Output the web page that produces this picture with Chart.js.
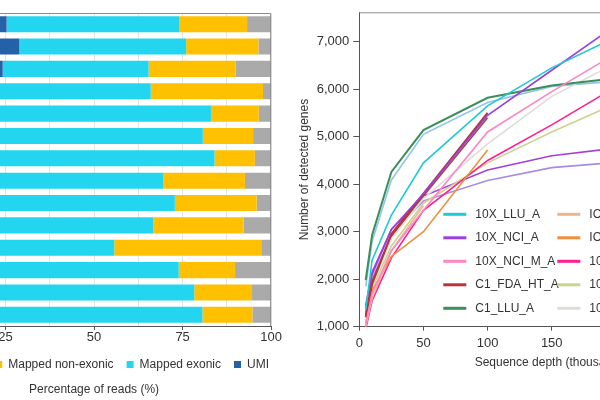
<!DOCTYPE html>
<html>
<head>
<meta charset="utf-8">
<script src="https://cdn.jsdelivr.net/npm/chart.js@4.4.1/dist/chart.umd.min.js"></script>
<style>
  html, body { margin: 0; padding: 0; background: #fff; }
  #wrap { position: relative; width: 600px; height: 400px; overflow: hidden; }
  #readsBox { position: absolute; left: -110px; top: 0; width: 392px; height: 400px; }
  #genesBox { position: absolute; left: 280px; top: 0; width: 480px; height: 400px; }
</style>
</head>
<body>
<div id="wrap">
  <div id="readsBox"><canvas id="readsChart" width="392" height="400"></canvas></div>
  <div id="genesBox"><canvas id="genesChart" width="480" height="400"></canvas></div>
</div>
<script>
// Samples (rows of the bar chart, lines of the depth chart)
const samples = ["10X_LLU_A", "10X_NCI_A", "10X_NCI_M_A", "C1_FDA_HT_A", "C1_LLU_A", "ICELL8_PE_A", "ICELL8_SE_A",
                 "10X_LLU_B", "10X_NCI_B", "10X_NCI_M_B", "C1_FDA_HT_B", "C1_LLU_B", "ICELL8_PE_B", "ICELL8_SE_B"];

// Percentage of reads per sample (stacked left to right)
const umiPct        = [25.3, 28.9, 24.2, 0, 0, 0, 0, 0, 0, 0, 0, 0, 0, 0];
const exonicPct     = [48.7, 47.1, 41.2, 66.0, 83.0, 80.7, 84.0, 69.5, 72.8, 66.7, 55.7, 73.9, 78.3, 80.6];
const nonExonicPct  = [19.2, 20.4, 24.6, 31.7, 13.5, 14.2, 11.4, 23.1, 23.1, 25.5, 41.5, 15.9, 16.3, 14.1];
const unmappedPct   = [6.8, 3.6, 10.0, 2.3, 3.5, 5.1, 4.6, 7.4, 4.1, 7.8, 2.8, 10.2, 5.4, 5.3];

// Number of detected genes at each sequence depth (thousands of reads)
const depths = [5, 10, 25, 50, 100, 150, 200];
const geneTicks = [1000, 2000, 3000, 4000, 5000, 6000, 7000];
const genes10xLluA   = [1350, 2400, 3350, 4450, 5650, 6450, 7100];
const genes10xNciA   = [1450, 2150, 3050, 3800, 5450, 6400, 7350];
const genes10xNciMA  = [1050, 1700, 2600, 3450, 5100, 5950, 6750];
const genesC1FdaA    = [1200, 1900, 2950, 3800, 5500, null, null];
const genesC1LluA    = [1980, 2930, 4260, 5140, 5820, 6080, 6230];
const genesIcePeA    = [1000, 1600, 2600, 3550, null, null, null];
const genesIceSeA    = [1050, 1750, 2480, 3000, 4720, null, null];
const genes10xLluB   = [950, 1550, 2450, 3450, 4500, 5250, 6050];
const genes10xNciB   = [1050, 1800, 2700, 3600, 4450, 5100, 5700];
const genes10xNciMB  = [1100, 1850, 2850, 3700, 4850, 5850, 6550];
const genesC1FdaB    = [1250, 1950, 2900, 3750, 5400, null, null];
const genesC1LluB    = [1850, 2800, 4090, 5050, 5720, 6060, 6170];
const genesIcePeB    = [1400, 2100, 3050, 3750, 4300, 4600, 4760];
const genesIceSeB    = [1300, 2000, 2950, 3650, 4080, 4350, 4460];

const geneSeries = [genes10xLluA, genes10xNciA, genes10xNciMA, genesC1FdaA, genesC1LluA, genesIcePeA, genesIceSeA,
                    genes10xLluB, genes10xNciB, genes10xNciMB, genesC1FdaB, genesC1LluB, genesIcePeB, genesIceSeB];
const lineColors = ["#1fc9d6", "#9a3fe0", "#ff86c2", "#b8333a", "#3b8f5a", "#e8b791", "#ef903c",
                    "#ff1f8f", "#cbd48f", "#dddcd6", "#9e4a3c", "#92c5e8", "#a63fd4", "#a58de0"];

Chart.defaults.font.family = "'Liberation Sans', Arial, sans-serif";
Chart.defaults.color = "#333";

// top + right border of the plot box
const framePlugin = {
    id: "frame",
    afterDatasetsDraw(chart) {
        const { ctx, chartArea: a } = chart;
        ctx.save();
        ctx.strokeStyle = "#8c8c8c";
        ctx.lineWidth = 1;
        ctx.beginPath();
        ctx.moveTo(a.left, a.top + 0.5);
        ctx.lineTo(a.right - 0.5, a.top + 0.5);
        ctx.lineTo(a.right - 0.5, a.bottom);
        ctx.stroke();
        ctx.restore();
    }
};

// legend drawn inside the plot area, 5 rows per column
const sampleLegend = {
    id: "sampleLegend",
    afterDraw(chart) {
        const { ctx, chartArea: a } = chart;
        ctx.save();
        ctx.font = "12px 'Liberation Sans', Arial, sans-serif";
        ctx.textBaseline = "middle";
        chart.data.datasets.forEach((ds, i) => {
            const col = Math.floor(i / 5), row = i % 5;
            const x = a.left + 84 + col * 114;
            const y = a.top + 202 + row * 23.5;
            ctx.strokeStyle = ds.borderColor;
            ctx.lineWidth = 3;
            ctx.beginPath();
            ctx.moveTo(x, y);
            ctx.lineTo(x + 23, y);
            ctx.stroke();
            ctx.fillStyle = "#333";
            ctx.fillText(ds.label, x + 32, y);
        });
        ctx.restore();
    }
};

// Left: stacked horizontal bars
new Chart(document.getElementById("readsChart"), {
    type: "bar",
    data: {
        labels: samples,
        datasets: [
            { label: "UMI", data: umiPct, backgroundColor: "#2461a8" },
            { label: "Mapped exonic", data: exonicPct, backgroundColor: "#24d5f0" },
            { label: "Mapped non-exonic", data: nonExonicPct, backgroundColor: "#ffc000" },
            { label: "Unmapped", data: unmappedPct, backgroundColor: "#aaaaaa" }
        ]
    },
    options: {
        responsive: false,
        animation: false,
        indexAxis: "y",
        barPercentage: 0.72,
        categoryPercentage: 1,
        layout: { padding: { left: 0, right: 0, top: 13, bottom: 0 } },
        scales: {
            x: {
                stacked: true,
                min: 0,
                max: 100,
                grid: {
                    color: "#e4e4e4",
                    tickLength: 4,
                    tickColor: (c) => (c.tick && c.tick.value % 25 === 0 ? "#555" : "rgba(0,0,0,0)")
                },
                border: { color: "#555" },
                ticks: {
                    stepSize: 12.5,
                    padding: 0,
                    font: { size: 13 },
                    color: "#333",
                    callback: (v) => (v % 25 === 0 ? v : "")
                }
            },
            y: {
                stacked: true,
                afterFit: (s) => { s.width = 27; },
                grid: { display: false },
                border: { display: false },
                ticks: { display: false }
            }
        },
        plugins: {
            legend: {
                position: "bottom",
                align: "end",
                reverse: true,
                labels: { boxWidth: 7, boxHeight: 7, padding: 13, font: { size: 12 }, color: "#333" }
            },
            title: {
                display: true,
                position: "bottom",
                fullSize: false,
                text: "Percentage of reads (%)",
                font: { size: 12, weight: "normal" },
                color: "#333",
                padding: { top: 2, bottom: 3 }
            },
            tooltip: { enabled: false }
        }
    },
    plugins: [framePlugin]
});

// Right: detected genes vs sequence depth
new Chart(document.getElementById("genesChart"), {
    type: "line",
    data: {
        datasets: samples.map((name, i) => ({
            label: name,
            data: depths.map((d, j) => ({ x: d, y: geneSeries[i][j] })),
            borderColor: lineColors[i],
            borderWidth: i === 3 || i === 4 ? 2 : 1.6,
            pointRadius: 0,
            tension: 0,
            fill: false
        }))
    },
    options: {
        responsive: false,
        animation: false,
        layout: { padding: { left: 0, right: 10.7, top: 12.3, bottom: 0 } },
        scales: {
            x: {
                type: "linear",
                min: 0,
                max: 300,
                afterFit: (s) => { s.height = 73.3; },
                grid: { drawOnChartArea: false, tickLength: 4, tickColor: "#555" },
                border: { color: "#555" },
                ticks: { stepSize: 50, padding: 5, font: { size: 13 }, color: "#333" },
                title: {
                    display: true,
                    text: "Sequence depth (thousands)",
                    font: { size: 12 },
                    color: "#333",
                    padding: { top: 0, bottom: 30 }
                }
            },
            y: {
                min: 1000,
                max: 7620,
                afterFit: (s) => { s.width = 79.3; },
                afterBuildTicks: (s) => { s.ticks = geneTicks.map((v) => ({ value: v })); },
                grid: { drawOnChartArea: false, tickLength: 6, tickColor: "#555" },
                border: { color: "#555" },
                ticks: {
                    padding: 4,
                    font: { size: 13 },
                    color: "#333",
                    callback: (v) => v.toLocaleString("en-US")
                },
                title: {
                    display: true,
                    text: "Number of detected genes",
                    font: { size: 12 },
                    color: "#333",
                    padding: { top: 17, bottom: 0 }
                }
            }
        },
        plugins: {
            legend: { display: false },
            tooltip: { enabled: false }
        }
    },
    plugins: [framePlugin, sampleLegend]
});
</script>
</body>
</html>
